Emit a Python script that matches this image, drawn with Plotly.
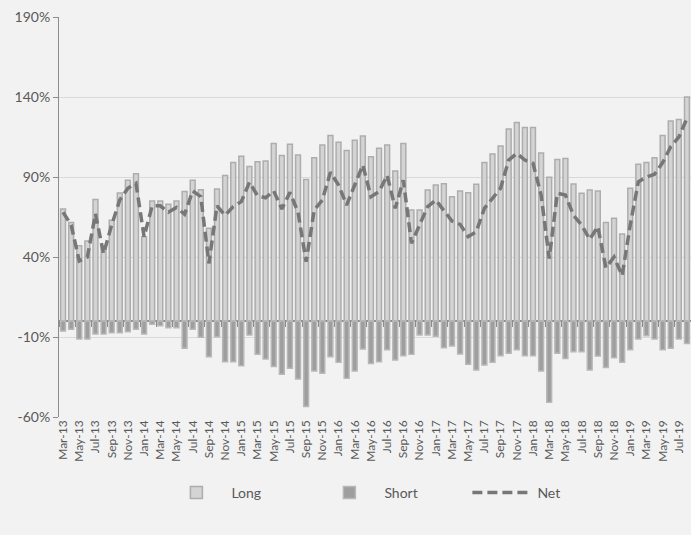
import plotly.graph_objects as go

months = ["Mar-13","Apr-13","May-13","Jun-13","Jul-13","Aug-13","Sep-13","Oct-13","Nov-13","Dec-13",
          "Jan-14","Feb-14","Mar-14","Apr-14","May-14","Jun-14","Jul-14","Aug-14","Sep-14","Oct-14","Nov-14","Dec-14",
          "Jan-15","Feb-15","Mar-15","Apr-15","May-15","Jun-15","Jul-15","Aug-15","Sep-15","Oct-15","Nov-15","Dec-15",
          "Jan-16","Feb-16","Mar-16","Apr-16","May-16","Jun-16","Jul-16","Aug-16","Sep-16","Oct-16","Nov-16","Dec-16",
          "Jan-17","Feb-17","Mar-17","Apr-17","May-17","Jun-17","Jul-17","Aug-17","Sep-17","Oct-17","Nov-17","Dec-17",
          "Jan-18","Feb-18","Mar-18","Apr-18","May-18","Jun-18","Jul-18","Aug-18","Sep-18","Oct-18","Nov-18","Dec-18",
          "Jan-19","Feb-19","Mar-19","Apr-19","May-19","Jun-19","Jul-19","Aug-19"]

long_vals = [70, 61.5, 47, 50, 76, 46.5, 63, 80, 88, 92,
             52.7, 75, 75, 73, 75, 81, 88, 82, 58, 82.5, 91, 99,
             103, 96.5, 99.6, 100, 111, 103.5, 110.4, 103.75, 88.5, 102, 110, 116,
             111.7, 106.5, 113, 115.6, 102.7, 108, 110, 93.75, 111, 69.4, 69.4, 81.9,
             85, 85.8, 77.7, 81.25, 80.2, 85.4, 99, 104.4, 109.4, 120, 124, 121,
             121, 105, 89.8, 101, 101.5, 85.6, 79.8, 81.9, 81.25, 61.5, 64.2, 54.4,
             83, 98, 99, 102, 116, 125, 126, 140]

short_vals = [-6.3, -5.2, -11.3, -11.3, -8.1, -8.1, -7.3, -7.3, -6.7, -5.2,
              -8.1, -2.1, -2.9, -4.2, -4.2, -17, -5.2, -10.2, -22.3, -9.8, -25.4, -25.4,
              -28, -8.75, -20.8, -23.75, -28.5, -33.3, -29.6, -36.25, -53.4, -31.25, -32.7, -22.3,
              -25.8, -35.8, -31.25, -17.5, -26.5, -25.4, -18, -24.4, -21.7, -20.8, -8.75, -8.75,
              -9.5, -16.7, -15.6, -20.6, -27, -30.6, -27.5, -25.8, -21.7, -20.2, -18, -21.7,
              -21.7, -31.25, -50.8, -20.2, -23.5, -19.2, -19.2, -30.6, -21.9, -29, -22.9, -25.8,
              -18, -11.25, -9.2, -11.25, -18, -17, -11.25, -14]

net_vals = [68, 60, 37.5, 40, 67, 42, 60, 75.6, 83, 86,
            52.7, 72, 72, 68, 71, 66.7, 81.3, 77.7, 36, 72, 66, 71.5,
            74.6, 86.7, 78.3, 77, 81.3, 70, 80.4, 68, 37, 69.4, 75.6, 93,
            85, 72.5, 85, 97.5, 77.7, 80.8, 91, 70.4, 88, 48.5, 60, 71.5,
            75.6, 69.4, 62.5, 60.4, 52.7, 55.8, 70.4, 76.7, 83, 100.6, 104.8, 100.6,
            98.5, 78.75, 39, 79.8, 78.75, 66, 60, 51, 59, 33.3, 40, 28.3,
            60, 87, 90, 91.7, 99, 109, 115, 126.7]

y_ticks = [-60, -10, 40, 90, 140, 190]
x_ticks = months[0::2]

font_family = "Lato, 'Open Sans', sans-serif"
txt = "#595959"
y_min, y_max = -60, 190

fig = go.Figure()
fig.add_trace(go.Bar(x=months, y=long_vals, name="Long",
                     marker=dict(color="#d4d4d4", line=dict(color="#adadad", width=1.5))))
fig.add_trace(go.Bar(x=months, y=short_vals, name="Short",
                     marker=dict(color="#9e9e9e", line=dict(color="#b8b8b8", width=1.5))))
fig.add_trace(go.Scatter(x=months, y=net_vals, name="Net", mode="lines",
                         line=dict(color="#777777", width=3.5, dash="10px,5px")))
# helper trace so the tick-only category axis at zero is drawn
fig.add_trace(go.Scatter(x=months, y=[None] * len(months), xaxis="x2", mode="lines",
                         showlegend=False, hoverinfo="skip"))

fig.update_layout(
    width=691, height=535,
    margin=dict(l=59, r=0, t=17, b=118),
    paper_bgcolor="#f2f2f2", plot_bgcolor="#f2f2f2",
    barmode="relative", bargap=0.4,
    font=dict(family=font_family, color=txt, size=13),
    legend=dict(orientation="h", x=0.162, xanchor="left", y=-0.19, yanchor="middle",
                font=dict(size=14, color=txt), traceorder="normal",
                entrywidth=78, entrywidthmode="pixels", itemwidth=60),
    showlegend=True,
    xaxis=dict(type="category", categoryorder="array", categoryarray=months,
               range=[-0.5, 77.5], tickmode="array", tickvals=x_ticks, ticktext=x_ticks,
               tickangle=-90, tickfont=dict(size=12, color=txt),
               showgrid=False, showline=False, ticks="", zeroline=False),
    xaxis2=dict(type="category", categoryorder="array", categoryarray=months,
                overlaying="x", anchor="free", position=(0 - y_min) / (y_max - y_min),
                range=[-0.5, 77.5], showticklabels=False, ticks="outside", ticklen=5,
                tickcolor="#8c8c8c", tickson="boundaries", showgrid=False, showline=False,
                zeroline=False),
)
fig.update_yaxes(range=[y_min, y_max], tickmode="array", tickvals=y_ticks,
                 ticktext=[f"{v}%" for v in y_ticks],
                 showgrid=True, gridcolor="#d9d9d9", gridwidth=1,
                 showline=True, linecolor="#8c8c8c", linewidth=1,
                 ticks="outside", ticklen=5, tickcolor="#8c8c8c",
                 zeroline=True, zerolinecolor="#8c8c8c", zerolinewidth=1.5,
                 tickfont=dict(size=14, color=txt))

fig.write_html("out.html", config={"displayModeBar": False},
               post_script="document.body.style.margin='0';document.body.style.overflow='hidden';")
